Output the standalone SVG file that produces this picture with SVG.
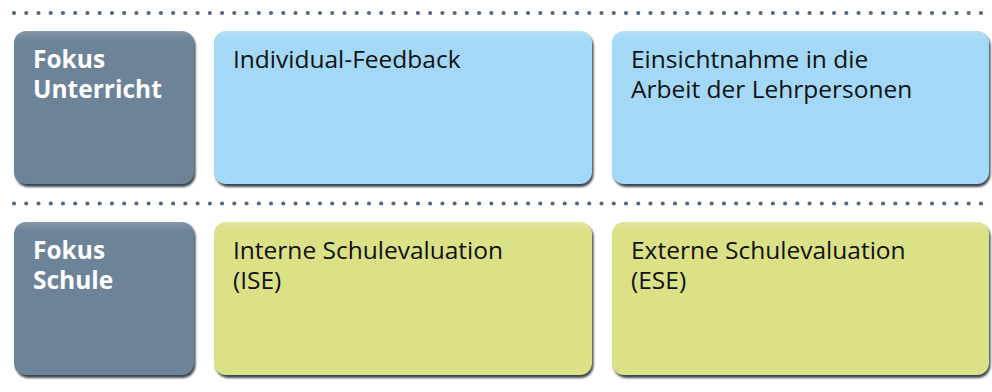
<svg xmlns="http://www.w3.org/2000/svg" width="992" height="392" viewBox="0 0 992 392">
  <defs>
    <style>
      .dots { stroke: #56687b; stroke-width: 4.2; stroke-linecap: round; stroke-dasharray: 0 12.24; fill: none; }
      .shade { fill: #3c4650; }
      .head { fill: #6c8398; }
      .blue { fill: #a3d9f6; }
      .green { fill: #dbe187; }
      .hd { font-family: "Open Sans", "Noto Sans", "Liberation Sans", sans-serif; font-weight: bold; font-size: 24.5px; fill: #ffffff; }
      .tx { font-family: "Open Sans", "Noto Sans", "Liberation Sans", sans-serif; font-size: 24.5px; fill: #111111; }
    </style>
    <filter id="soft" x="-5%" y="-5%" width="110%" height="110%">
      <feGaussianBlur stdDeviation="0.8"/>
    </filter>
    <linearGradient id="gloss" x1="0" y1="0" x2="0" y2="1">
      <stop offset="0" stop-color="#ffffff" stop-opacity="0.18"/>
      <stop offset="0.06" stop-color="#ffffff" stop-opacity="0"/>
    </linearGradient>
  </defs>

  <!-- row separators -->
  <g id="separators">
    <line class="dots" x1="14" y1="13" x2="988" y2="13"/>
    <line class="dots" x1="14" y1="203.5" x2="988" y2="203.5"/>
  </g>

  <!-- row 1 -->
  <g id="fokus-unterricht">
    <rect class="shade" x="15.5" y="33" width="180" height="154" rx="13" filter="url(#soft)"/>
    <rect class="head" x="14" y="31" width="180" height="153" rx="12"/>
    <rect fill="url(#gloss)" x="14" y="31" width="180" height="153" rx="12"/>
    <text class="hd" x="33" y="68">Fokus</text>
    <text class="hd" x="33" y="98">Unterricht</text>
  </g>
  <g id="individual-feedback">
    <rect class="shade" x="215.5" y="33" width="378" height="154" rx="13" filter="url(#soft)"/>
    <rect class="blue" x="214" y="31" width="378" height="153" rx="12"/>
    <rect fill="url(#gloss)" x="214" y="31" width="378" height="153" rx="12"/>
    <text class="tx" x="233" y="68">Individual-Feedback</text>
  </g>
  <g id="einsichtnahme">
    <rect class="shade" x="613.5" y="33" width="377" height="154" rx="13" filter="url(#soft)"/>
    <rect class="blue" x="612" y="31" width="377" height="153" rx="12"/>
    <rect fill="url(#gloss)" x="612" y="31" width="377" height="153" rx="12"/>
    <text class="tx" x="631" y="68">Einsichtnahme in die</text>
    <text class="tx" x="631" y="98">Arbeit der Lehrpersonen</text>
  </g>

  <!-- row 2 -->
  <g id="fokus-schule">
    <rect class="shade" x="15.5" y="224" width="180" height="154" rx="13" filter="url(#soft)"/>
    <rect class="head" x="14" y="222" width="180" height="153" rx="12"/>
    <rect fill="url(#gloss)" x="14" y="222" width="180" height="153" rx="12"/>
    <text class="hd" x="33" y="259">Fokus</text>
    <text class="hd" x="33" y="289">Schule</text>
  </g>
  <g id="ise">
    <rect class="shade" x="215.5" y="224" width="378" height="154" rx="13" filter="url(#soft)"/>
    <rect class="green" x="214" y="222" width="378" height="153" rx="12"/>
    <rect fill="url(#gloss)" x="214" y="222" width="378" height="153" rx="12"/>
    <text class="tx" x="233" y="259">Interne Schulevaluation</text>
    <text class="tx" x="233" y="289">(ISE)</text>
  </g>
  <g id="ese">
    <rect class="shade" x="613.5" y="224" width="377" height="154" rx="13" filter="url(#soft)"/>
    <rect class="green" x="612" y="222" width="377" height="153" rx="12"/>
    <rect fill="url(#gloss)" x="612" y="222" width="377" height="153" rx="12"/>
    <text class="tx" x="631" y="259">Externe Schulevaluation</text>
    <text class="tx" x="631" y="289">(ESE)</text>
  </g>
</svg>
